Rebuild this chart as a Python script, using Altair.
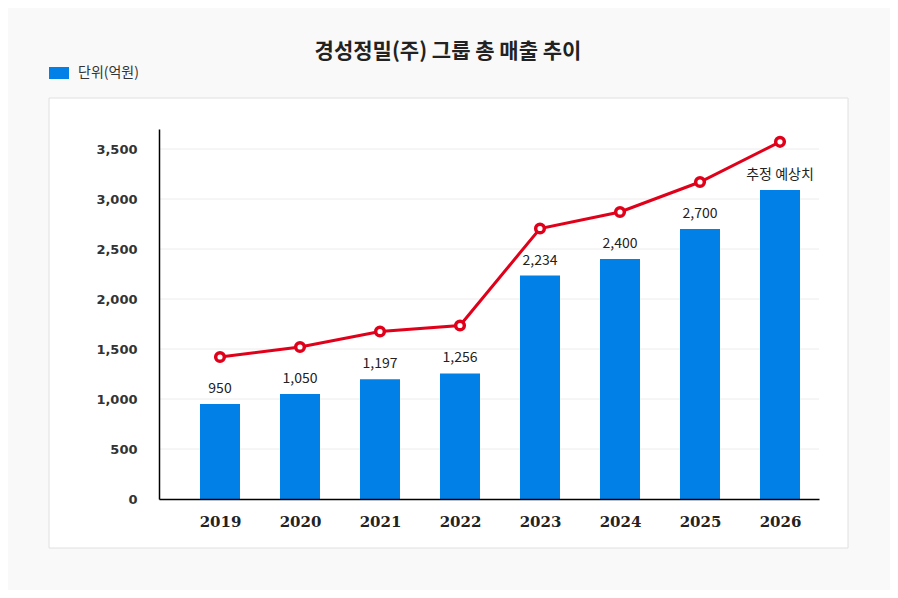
import altair as alt
import pandas as pd

years = [2019, 2020, 2021, 2022, 2023, 2024, 2025, 2026]
sales = [950, 1050, 1197, 1256, 2234, 2400, 2700, 3090]
bar_labels = ["950", "1,050", "1,197", "1,256", "2,234", "2,400", "2,700", "추정 예상치"]
trend = [1420, 1520, 1675, 1735, 2705, 2870, 3170, 3572]
grid_values = [500, 1000, 1500, 2000, 2500, 3000, 3500]
title_text = "경성정밀(주) 그룹 총 매출 추이"
legend_text = "단위(억원)"

BLUE = "#0180e8"
RED = "#e0001a"

df = pd.DataFrame({"year": years, "sales": sales, "label": bar_labels, "trend": trend})
grid_df = pd.DataFrame({"v": grid_values})
one = pd.DataFrame({"a": [0]})

xscale = alt.Scale(domain=[2018.2375, 2026.4875], nice=False, zero=False, padding=0)
yscale = alt.Scale(domain=[0, 3700], nice=False, padding=0)

x_axis = alt.Axis(values=years, format="d", grid=False, ticks=False,
                  domainColor="#000", domainWidth=1.5,
                  labelFont="DejaVu Serif", labelFontWeight="bold",
                  labelFontSize=15, labelColor="#222", labelPadding=15,
                  zindex=1)
y_axis = alt.Axis(values=[0] + grid_values, format=",d", grid=False, ticks=False,
                  domainColor="#000", domainWidth=1.5,
                  labelFont="DejaVu Sans", labelFontWeight="bold",
                  labelFontSize=13, labelColor="#333", labelPadding=22,
                  zindex=1)

panel = alt.Chart(one).mark_rect(fill="white", stroke="#e0e0e0", strokeWidth=1).encode(
    x=alt.value(-110), x2=alt.value(689), y=alt.value(-31), y2=alt.value(419)
)

grid = alt.Chart(grid_df).mark_rule(color="#ececec", strokeWidth=1).encode(
    y=alt.Y("v:Q", scale=yscale, axis=y_axis, title=None),
    x=alt.value(0), x2=alt.value(660),
)

bars = alt.Chart(df).mark_bar(size=40, color=BLUE).encode(
    x=alt.X("year:Q", scale=xscale, axis=x_axis, title=None),
    y=alt.Y("sales:Q", scale=yscale, axis=y_axis, title=None),
)

labels = alt.Chart(df).mark_text(
    dy=-8, baseline="bottom", font="Noto Sans CJK KR", fontSize=14, color="#222"
).encode(x=alt.X("year:Q", scale=xscale), y=alt.Y("sales:Q", scale=yscale), text="label:N")

line = alt.Chart(df).mark_line(color=RED, strokeWidth=3).encode(
    x=alt.X("year:Q", scale=xscale), y=alt.Y("trend:Q", scale=yscale)
)
points = alt.Chart(df).mark_point(
    shape="circle", size=75, filled=True, fill="white", stroke=RED, strokeWidth=3.5, opacity=1
).encode(x=alt.X("year:Q", scale=xscale), y=alt.Y("trend:Q", scale=yscale))

title = alt.Chart(one).mark_text(
    text=title_text, font="Noto Sans CJK KR", fontSize=21, fontWeight="bold",
    color="#222", align="center", baseline="middle"
).encode(x=alt.value(289), y=alt.value(-77))

legend_box = alt.Chart(one).mark_rect(color=BLUE).encode(
    x=alt.value(-110), x2=alt.value(-90), y=alt.value(-62), y2=alt.value(-50)
)
legend_label = alt.Chart(one).mark_text(
    text=legend_text, font="Noto Sans CJK KR", fontSize=14, color="#333",
    align="left", baseline="middle"
).encode(x=alt.value(-81), y=alt.value(-56))

chart = alt.layer(
    panel, grid, bars, labels, line, points, title, legend_box, legend_label
).properties(
    width=660, height=370,
    autosize=alt.AutoSizeParams(type="none"),
    padding={"left": 151, "top": 121, "right": 71, "bottom": 91},
    background="#f9f9f9",
).configure_view(stroke=None)

chart.save("out.html", embed_options={"renderer": "svg", "actions": False})
